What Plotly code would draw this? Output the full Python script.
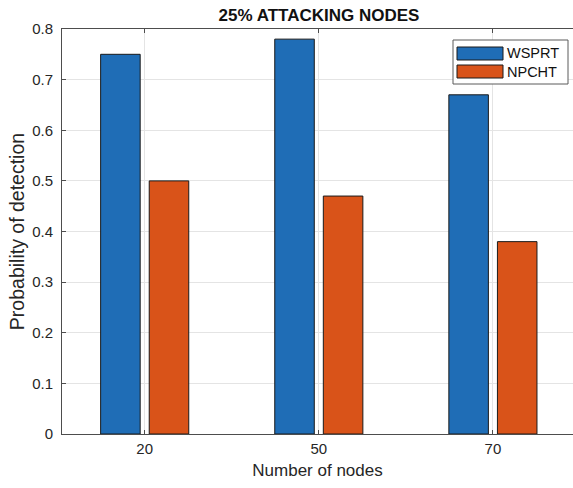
import plotly.graph_objects as go

categories = ["20", "50", "70"]
wsprt = [0.75, 0.78, 0.67]
npcht = [0.50, 0.47, 0.38]
y_ticks = [0, 0.1, 0.2, 0.3, 0.4, 0.5, 0.6, 0.7, 0.8]
series_names = ["WSPRT", "NPCHT"]
series_colors = ["#1F6DB6", "#D95319"]

x_pos = [1, 2, 3]

W, H = 573, 488
ML, MR, MT, MB = 62, 0, 29, 54
PW, PH = W - ML - MR, H - MT - MB
FONT = "Liberation Sans, Arial, Helvetica, sans-serif"


def px(x):
    return (x - ML) / PW


def py(y):
    return (H - MB - y) / PH


fig = go.Figure()
for name, vals, col in zip(series_names, [wsprt, npcht], series_colors):
    fig.add_trace(go.Bar(x=x_pos, y=vals, name=name, showlegend=False,
                         marker=dict(color=col, line=dict(color="#1a1a1a", width=1))))

axis_common = dict(
    showline=True, linecolor="#4d4d4d", linewidth=1,
    ticks="inside", ticklen=4, tickcolor="#4d4d4d",
    showgrid=True, gridcolor="#e4e4e4", gridwidth=1,
    zeroline=False, automargin=False,
    tickfont=dict(family=FONT, size=15, color="#262626"),
)

# custom MATLAB-style legend (box, wide swatches, labels)
shapes = [dict(type="rect", xref="paper", yref="paper",
               x0=px(453), x1=px(568), y0=py(40), y1=py(84),
               line=dict(color="#5a5a5a", width=1), fillcolor="white", layer="above")]
annotations = []
for i, (name, col) in enumerate(zip(series_names, series_colors)):
    top = 47 + i * 18
    shapes.append(dict(type="rect", xref="paper", yref="paper",
                       x0=px(457), x1=px(503), y0=py(top), y1=py(top + 13),
                       line=dict(color="#1a1a1a", width=1), fillcolor=col, layer="above"))
    annotations.append(dict(xref="paper", yref="paper", x=px(505), y=py(top + 6.5),
                            xanchor="left", yanchor="middle", showarrow=False,
                            text=name, font=dict(family=FONT, size=14.5, color="#111111")))

fig.update_layout(
    width=W, height=H,
    margin=dict(l=ML, r=MR, t=MT, b=MB),
    paper_bgcolor="white", plot_bgcolor="white",
    barmode="group", bargap=0.442, bargroupgap=0.186,
    title=dict(text="<b>25% ATTACKING NODES</b>", x=319 / W, xanchor="center",
               y=1 - 15 / H, yanchor="middle", xref="container", yref="container",
               font=dict(family=FONT, size=17, color="#111111")),
    xaxis=dict(range=[0.525, 3.46], tickmode="array", tickvals=x_pos, ticktext=categories,
               mirror="ticks", ticklabelstandoff=1,
               title=dict(text="Number of nodes", standoff=8,
                          font=dict(family=FONT, size=17, color="#262626")),
               **axis_common),
    yaxis=dict(range=[0, 0.8], tickmode="array", tickvals=y_ticks,
               ticktext=[("%g" % v) for v in y_ticks], mirror=False,
               ticklabelstandoff=5,
               title=dict(text="Probability of detection", standoff=2,
                          font=dict(family=FONT, size=19.5, color="#262626")),
               **axis_common),
    shapes=shapes,
    annotations=annotations,
    showlegend=False,
)

fig.write_html("out.html", config={"displayModeBar": False},
               post_script="document.body.style.margin='0';document.body.style.overflow='hidden';")
